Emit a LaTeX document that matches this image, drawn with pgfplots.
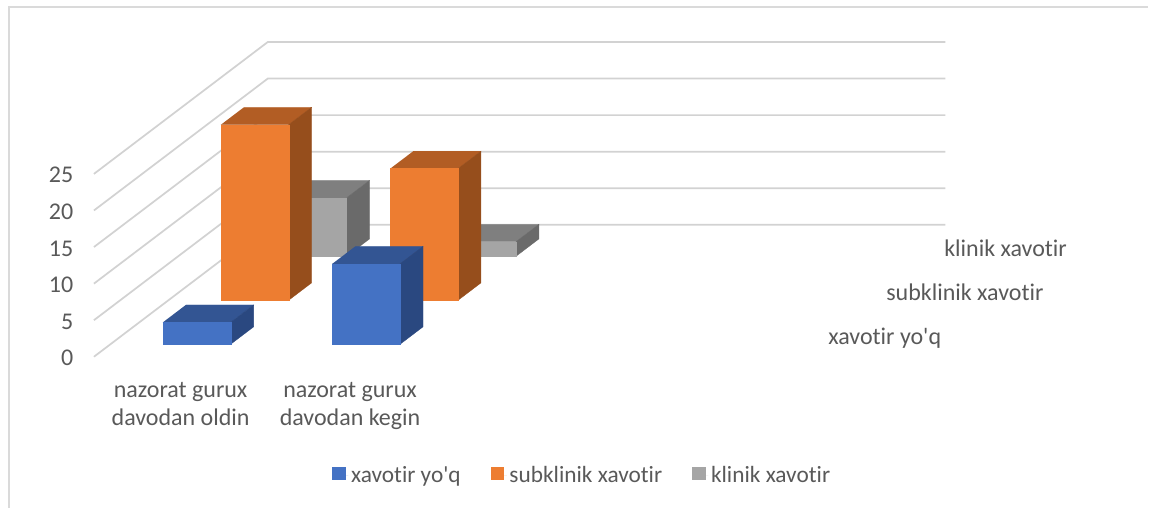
\documentclass[border=0pt]{standalone}
\usepackage{fontspec}
\setmainfont{Carlito}[Ligatures={NoCommon}]
\usepackage{pgfplots}
\pgfplotsset{compat=1.18}
\definecolor{txt}{HTML}{595959}
\definecolor{gridc}{HTML}{D2D2D2}
\definecolor{frameC}{HTML}{DADADA}
\definecolor{bF}{HTML}{4472C4}\definecolor{bT}{HTML}{335593}\definecolor{bS}{HTML}{2A4880}
\definecolor{oF}{HTML}{ED7D31}\definecolor{oT}{HTML}{B25D24}\definecolor{oS}{HTML}{964E1C}
\definecolor{gF}{HTML}{A5A5A5}\definecolor{gT}{HTML}{7F7F7F}\definecolor{gS}{HTML}{6A6A6A}
\begin{document}
\begin{tikzpicture}
\begin{axis}[
  x={(127.125pt,0pt)}, y={(43.5pt,33pt)}, z={(0pt,5.49pt)},
  xmin=0,xmax=4,ymin=0,ymax=3,zmin=0,zmax=25,
  clip=false,
  axis line style={draw=none},
  major tick length=0pt,
  minor tick num=0,
  xtick={0.5,1.5}, xticklabels={nazorat gurux\\davodan oldin,nazorat gurux\\davodan kegin},
  ytick={0.5,1.5,2.5}, yticklabels={xavotir yo\textquotesingle q,subklinik xavotir,klinik xavotir},
  ztick={0,5,10,15,20,25},
  /pgf/number format/assume math mode=true,
  tick label style={font=\fontsize{18}{20.8}\selectfont,text=txt},
  x tick label style={align=center,anchor=north,xshift=1.5pt,yshift=-15.5pt},
  ytick pos=left,
  yticklabel pos=left,
  y tick label style={anchor=base west,xshift=17.4pt,yshift=-7.4pt},
  z tick label style={anchor=east,xshift=-12pt,yshift=-1pt},
  legend columns=3,
  legend style={draw=none,fill=none,font=\fontsize{17.5}{20}\selectfont,text=txt,
    at={(axis cs:2.885,0,-16.27)},anchor=center,
    /tikz/every even column/.append style={column sep=20.6pt},
    legend cell align=left},
  legend image code/.code={\fill[#1] (0pt,-3.3pt) rectangle (10pt,6.7pt);\path (0pt,0pt) -- (12pt,0pt);},
]
% frame of the chart area and page extent
\path (axis cs:-0.5546,0,-20.63) rectangle (axis cs:6.2242,0,48.77);
\draw[frameC,line width=1.1pt] (axis cs:-0.5021,0,-20.63) -- (axis cs:-0.5021,0,47.8) -- (axis cs:6.2242,0,47.8);

% gridlines: left wall and back wall
\addplot3[gridc,line width=1.3pt,forget plot] coordinates {(0,0,0)(0,3,0)(4,3,0)};
\addplot3[gridc,line width=1.3pt,forget plot] coordinates {(0,0,5)(0,3,5)(4,3,5)};
\addplot3[gridc,line width=1.3pt,forget plot] coordinates {(0,0,10)(0,3,10)(4,3,10)};
\addplot3[gridc,line width=1.3pt,forget plot] coordinates {(0,0,15)(0,3,15)(4,3,15)};
\addplot3[gridc,line width=1.3pt,forget plot] coordinates {(0,0,20)(0,3,20)(4,3,20)};
\addplot3[gridc,line width=1.3pt,forget plot] coordinates {(0,0,25)(0,3,25)(4,3,25)};

% klinik xavotir: 8, 2
\addplot3[fill=gT,draw=gT,line width=.2pt,forget plot] coordinates {(0.31,2.284,8)(0.71,2.284,8)(0.71,2.68,8)(0.31,2.68,8)};
\addplot3[fill=gS,draw=gS,line width=.2pt,forget plot] coordinates {(0.71,2.284,0)(0.71,2.68,0)(0.71,2.68,8)(0.71,2.284,8)};
\addplot3[fill=gF,draw=gF,line width=.2pt,forget plot] coordinates {(0.31,2.284,0)(0.71,2.284,0)(0.71,2.284,8)(0.31,2.284,8)};
\addplot3[fill=gT,draw=gT,line width=.2pt,forget plot] coordinates {(1.31,2.284,2)(1.71,2.284,2)(1.71,2.68,2)(1.31,2.68,2)};
\addplot3[fill=gS,draw=gS,line width=.2pt,forget plot] coordinates {(1.71,2.284,0)(1.71,2.68,0)(1.71,2.68,2)(1.71,2.284,2)};
\addplot3[fill=gF,draw=gF,line width=.2pt,forget plot] coordinates {(1.31,2.284,0)(1.71,2.284,0)(1.71,2.284,2)(1.31,2.284,2)};

% subklinik xavotir: 24, 18
\addplot3[fill=oT,draw=oT,line width=.2pt,forget plot] coordinates {(0.31,1.284,24)(0.71,1.284,24)(0.71,1.68,24)(0.31,1.68,24)};
\addplot3[fill=oS,draw=oS,line width=.2pt,forget plot] coordinates {(0.71,1.284,0)(0.71,1.68,0)(0.71,1.68,24)(0.71,1.284,24)};
\addplot3[fill=oF,draw=oF,line width=.2pt,forget plot] coordinates {(0.31,1.284,0)(0.71,1.284,0)(0.71,1.284,24)(0.31,1.284,24)};
\addplot3[fill=oT,draw=oT,line width=.2pt,forget plot] coordinates {(1.31,1.284,18)(1.71,1.284,18)(1.71,1.68,18)(1.31,1.68,18)};
\addplot3[fill=oS,draw=oS,line width=.2pt,forget plot] coordinates {(1.71,1.284,0)(1.71,1.68,0)(1.71,1.68,18)(1.71,1.284,18)};
\addplot3[fill=oF,draw=oF,line width=.2pt,forget plot] coordinates {(1.31,1.284,0)(1.71,1.284,0)(1.71,1.284,18)(1.31,1.284,18)};

% xavotir yo'q: 3, 11
\addplot3[fill=bT,draw=bT,line width=.2pt,forget plot] coordinates {(0.31,0.284,3)(0.71,0.284,3)(0.71,0.68,3)(0.31,0.68,3)};
\addplot3[fill=bS,draw=bS,line width=.2pt,forget plot] coordinates {(0.71,0.284,0)(0.71,0.68,0)(0.71,0.68,3)(0.71,0.284,3)};
\addplot3[fill=bF,draw=bF,line width=.2pt,forget plot] coordinates {(0.31,0.284,0)(0.71,0.284,0)(0.71,0.284,3)(0.31,0.284,3)};
\addplot3[fill=bT,draw=bT,line width=.2pt,forget plot] coordinates {(1.31,0.284,11)(1.71,0.284,11)(1.71,0.68,11)(1.31,0.68,11)};
\addplot3[fill=bS,draw=bS,line width=.2pt,forget plot] coordinates {(1.71,0.284,0)(1.71,0.68,0)(1.71,0.68,11)(1.71,0.284,11)};
\addplot3[fill=bF,draw=bF,line width=.2pt,forget plot] coordinates {(1.31,0.284,0)(1.71,0.284,0)(1.71,0.284,11)(1.31,0.284,11)};

\addlegendimage{fill=bF,draw=none}\addlegendentry{xavotir yo\textquotesingle q}
\addlegendimage{fill=oF,draw=none}\addlegendentry{subklinik xavotir}
\addlegendimage{fill=gF,draw=none}\addlegendentry{klinik xavotir}
\end{axis}
\end{tikzpicture}
\end{document}
